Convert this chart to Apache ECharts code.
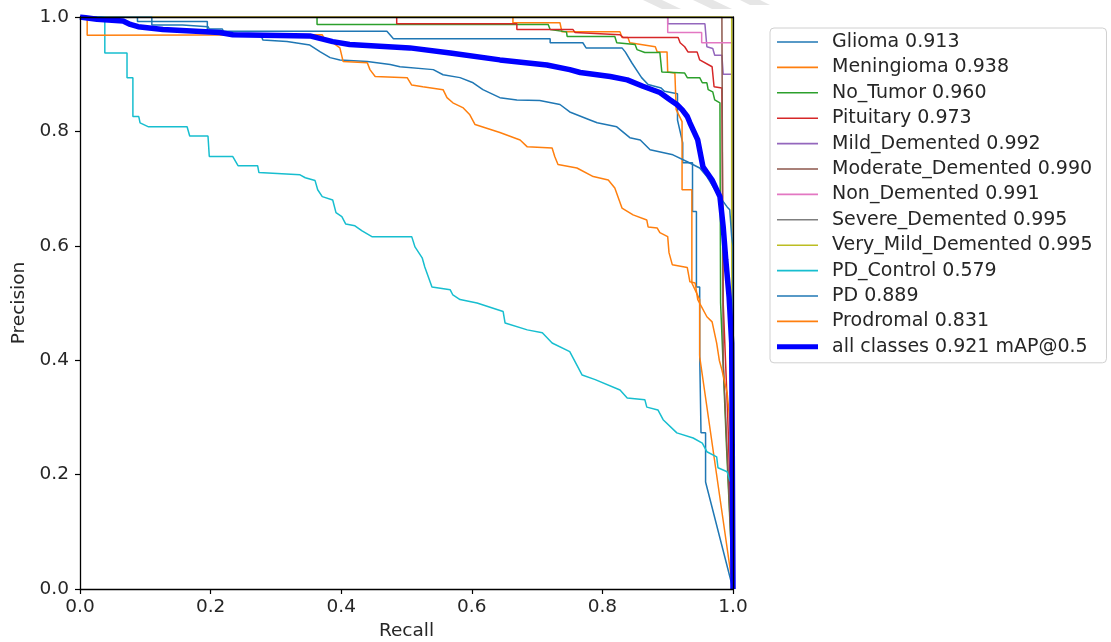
<!DOCTYPE html>
<html>
<head>
<meta charset="utf-8">
<script src="https://cdn.jsdelivr.net/npm/echarts@6/dist/echarts.min.js"></script>
<style>
html,body{margin:0;padding:0;background:#fff;}
#chart{width:1111px;height:642px;}
</style>
</head>
<body>
<div id="chart"></div>
<script>
// ---- data (recall, precision) ----
const classNames = ["Glioma","Meningioma","No_Tumor","Pituitary","Mild_Demented","Moderate_Demented","Non_Demented","Severe_Demented","Very_Mild_Demented","PD_Control","PD","Prodromal"];
const apValues = ["0.913","0.938","0.960","0.973","0.992","0.990","0.991","0.995","0.995","0.579","0.889","0.831"];
const allClassesLabel = "all classes 0.921 mAP@0.5";
const xTicks = [0, 0.2, 0.4, 0.6, 0.8, 1.0];
const yTicks = [0, 0.2, 0.4, 0.6, 0.8, 1.0];

const glioma = [[0,1],[0.088,1],[0.088,0.992],[0.195,0.992],[0.195,0.975],[0.47,0.975],[0.48,0.962],[0.72,0.962],[0.72,0.955],[0.77,0.955],[0.775,0.946],[0.83,0.946],[0.835,0.939],[0.845,0.92],[0.86,0.894],[0.87,0.882],[0.89,0.876],[0.895,0.87],[0.915,0.866],[0.915,0.82],[0.923,0.78],[0.923,0.745],[0.938,0.745],[0.938,0.66],[0.944,0.66],[0.944,0.528],[0.949,0.528],[0.949,0.41],[0.951,0.273],[0.958,0.273],[0.958,0.187],[1,0]];
const meningioma = [[0,1],[0.663,1],[0.663,0.99],[0.735,0.99],[0.738,0.974],[0.827,0.974],[0.83,0.964],[0.839,0.964],[0.842,0.955],[0.881,0.948],[0.884,0.939],[0.899,0.939],[0.9,0.904],[0.911,0.902],[0.913,0.838],[0.922,0.817],[0.922,0.698],[0.937,0.698],[0.937,0.535],[0.949,0.506],[0.949,0.406],[1,0]];
const noTumor = [[0,1],[0.363,1],[0.363,0.987],[0.717,0.987],[0.72,0.978],[0.745,0.974],[0.746,0.966],[0.819,0.966],[0.822,0.955],[0.85,0.952],[0.853,0.943],[0.865,0.938],[0.888,0.938],[0.891,0.904],[0.926,0.902],[0.93,0.894],[0.949,0.894],[0.953,0.885],[0.96,0.885],[0.962,0.873],[0.969,0.869],[0.972,0.855],[0.98,0.85],[0.981,0.5],[0.99,0.25],[1,0]];
const pituitary = [[0,1],[0.485,1],[0.485,0.988],[0.669,0.988],[0.669,0.978],[0.755,0.978],[0.758,0.973],[0.827,0.969],[0.832,0.964],[0.916,0.964],[0.919,0.955],[0.926,0.948],[0.931,0.939],[0.945,0.939],[0.949,0.925],[0.968,0.913],[0.971,0.878],[0.983,0.876],[0.985,0.5],[0.992,0.3],[1,0]];
const mildDemented = [[0,1],[0.9,1],[0.9,0.988],[0.957,0.988],[0.96,0.948],[0.969,0.945],[0.972,0.933],[0.983,0.933],[0.985,0.9],[1,0.9],[1,0]];
const moderateDemented = [[0,1],[0.983,1],[0.985,0.4],[1,0]];
const nonDemented = [[0,1],[0.9,1],[0.9,0.973],[0.952,0.973],[0.952,0.955],[1,0.955],[1,0]];
const severeDemented = [[0,1],[1,1],[1,0]];
const veryMildDemented = [[0,1],[0.998,1],[0.998,0.6],[1,0]];
const pdControl = [[0,1],[0.038,1],[0.038,0.937],[0.072,0.937],[0.072,0.894],[0.081,0.894],[0.081,0.826],[0.09,0.826],[0.092,0.815],[0.105,0.808],[0.164,0.808],[0.168,0.792],[0.196,0.792],[0.198,0.756],[0.234,0.756],[0.242,0.74],[0.272,0.74],[0.274,0.728],[0.337,0.724],[0.345,0.719],[0.36,0.714],[0.364,0.698],[0.371,0.686],[0.387,0.68],[0.392,0.658],[0.401,0.651],[0.407,0.638],[0.421,0.635],[0.432,0.626],[0.447,0.616],[0.508,0.616],[0.513,0.598],[0.524,0.579],[0.528,0.563],[0.539,0.528],[0.567,0.523],[0.571,0.514],[0.582,0.506],[0.608,0.5],[0.648,0.485],[0.651,0.465],[0.685,0.453],[0.708,0.448],[0.723,0.43],[0.75,0.415],[0.769,0.374],[0.789,0.366],[0.827,0.348],[0.838,0.334],[0.865,0.331],[0.868,0.318],[0.885,0.313],[0.893,0.296],[0.914,0.273],[0.939,0.264],[0.953,0.255],[0.96,0.24],[0.975,0.231],[0.977,0.212],[0.991,0.205],[0.995,0.19],[1,0.18],[1,0]];
const pd = [[0,1],[0.11,1],[0.11,0.986],[0.157,0.986],[0.157,0.983],[0.196,0.983],[0.198,0.979],[0.218,0.979],[0.22,0.974],[0.278,0.966],[0.28,0.96],[0.317,0.957],[0.352,0.951],[0.368,0.939],[0.383,0.929],[0.398,0.925],[0.44,0.922],[0.475,0.917],[0.49,0.913],[0.541,0.908],[0.556,0.899],[0.582,0.894],[0.602,0.885],[0.617,0.873],[0.643,0.859],[0.669,0.855],[0.704,0.854],[0.735,0.847],[0.75,0.834],[0.781,0.82],[0.792,0.815],[0.822,0.808],[0.842,0.789],[0.858,0.785],[0.873,0.768],[0.908,0.759],[0.93,0.747],[0.949,0.736],[0.96,0.721],[0.975,0.693],[0.991,0.668],[0.995,0.663],[0.998,0.616],[1,0.6],[1,0]];
const prodromal = [[0,1],[0.011,1],[0.011,0.968],[0.371,0.969],[0.375,0.96],[0.387,0.955],[0.398,0.946],[0.403,0.922],[0.44,0.92],[0.444,0.908],[0.452,0.896],[0.501,0.894],[0.508,0.881],[0.525,0.878],[0.556,0.873],[0.562,0.859],[0.571,0.85],[0.587,0.841],[0.597,0.829],[0.605,0.812],[0.643,0.798],[0.674,0.785],[0.685,0.773],[0.723,0.771],[0.727,0.756],[0.732,0.742],[0.761,0.736],[0.786,0.721],[0.809,0.715],[0.819,0.701],[0.83,0.666],[0.847,0.654],[0.868,0.645],[0.87,0.633],[0.884,0.631],[0.888,0.623],[0.9,0.616],[0.902,0.588],[0.907,0.567],[0.93,0.562],[0.934,0.537],[0.942,0.535],[0.946,0.506],[0.96,0.476],[0.968,0.467],[0.975,0.43],[0.979,0.4],[0.983,0.383],[0.991,0.343],[0.995,0.296],[0.998,0.19],[1,0]];
const allClasses = [[0,1],[0.026,0.996],[0.066,0.993],[0.077,0.987],[0.089,0.983],[0.127,0.978],[0.214,0.973],[0.234,0.969],[0.352,0.967],[0.387,0.957],[0.413,0.952],[0.505,0.946],[0.567,0.937],[0.643,0.925],[0.715,0.916],[0.75,0.908],[0.766,0.903],[0.812,0.896],[0.838,0.89],[0.862,0.879],[0.888,0.868],[0.904,0.855],[0.914,0.847],[0.922,0.838],[0.93,0.826],[0.934,0.815],[0.946,0.785],[0.954,0.738],[0.968,0.715],[0.98,0.686],[0.985,0.633],[0.989,0.575],[0.994,0.511],[0.998,0.43],[1,0]];

const classCurves = [glioma, meningioma, noTumor, pituitary, mildDemented, moderateDemented, nonDemented, severeDemented, veryMildDemented, pdControl, pd, prodromal];
const palette = ["#1f77b4","#ff7f0e","#2ca02c","#d62728","#9467bd","#8c564b","#e377c2","#7f7f7f","#bcbd22","#17becf","#1f77b4","#ff7f0e"];

// ---- chart ----
const chart = echarts.init(document.getElementById('chart'), null, {renderer:'canvas'});
const font = 'DejaVu Sans';
const txt = '#262626';
const thinIcon = 'path://M0,0H40V1.6H0Z';
const thickIcon = 'path://M0,0H40V5H0Z';

const series = classCurves.map((d, i) => ({
  name: classNames[i] + ' ' + apValues[i],
  type: 'line',
  data: d,
  symbol: 'none',
  xAxisIndex: 0, yAxisIndex: 0,
  lineStyle: {color: palette[i], width: 1.5},
  itemStyle: {color: palette[i]},
  emphasis: {disabled: true},
  clip: true
}));
series.push({
  name: allClassesLabel,
  type: 'line',
  data: allClasses,
  symbol: 'none',
  xAxisIndex: 0, yAxisIndex: 0,
  lineStyle: {color: '#0000ff', width: 5.5},
  itemStyle: {color: '#0000ff'},
  emphasis: {disabled: true},
  clip: true
});

const legendData = series.map((s, i) => ({name: s.name, icon: i === series.length - 1 ? thickIcon : thinIcon}));

const labelStyle = {color: txt, fontFamily: font, fontSize: 18.5, formatter: v => v.toFixed(1)};
const axisCommon = {
  type: 'value', min: 0, max: 1, interval: 0.2, z: 10,
  axisLine: {show: true, lineStyle: {color: '#000', width: 1.3}},
  axisTick: {show: true, inside: false, length: 5, lineStyle: {color: '#000', width: 1.2}},
  splitLine: {show: false},
  nameTextStyle: {color: txt, fontFamily: font, fontSize: 18.5},
  nameLocation: 'middle'
};
const spine = {
  type: 'value', min: 0, max: 1, z: 10,
  axisLine: {show: true, onZero: false, lineStyle: {color: '#000', width: 1.3}},
  axisTick: {show: false}, axisLabel: {show: false}, splitLine: {show: false}
};

chart.setOption({
  animation: false,
  backgroundColor: '#fff',
  grid: {left: 80, right: 378, top: 17, bottom: 53, show: false, containLabel: false, outerBoundsMode: 'none'},
  xAxis: [
    Object.assign({}, axisCommon, {name: 'Recall', nameGap: 30, position: 'bottom', axisLabel: Object.assign({}, labelStyle, {margin: 9})}),
    Object.assign({}, spine, {position: 'top'})
  ],
  yAxis: [
    Object.assign({}, axisCommon, {name: 'Precision', nameGap: 50, position: 'left', axisLabel: Object.assign({}, labelStyle, {margin: 11})}),
    Object.assign({}, spine, {position: 'right'})
  ],
  legend: {
    orient: 'vertical', left: 770, top: 28,
    padding: [4, 14, 6, 7],
    itemWidth: 41, itemHeight: 14, itemGap: 5.4,
    borderColor: '#d0d0d0', borderWidth: 1, borderRadius: 4,
    textStyle: {color: txt, fontFamily: font, fontSize: 19, lineHeight: 20, padding: [0, 0, 0, 9]},
    selectedMode: false,
    data: legendData
  },
  graphic: [
    {type: 'polygon', shape: {points: [[643,0],[662,0],[681,9],[662,9]]}, style: {fill: '#e6e6e6'}, silent: true},
    {type: 'polygon', shape: {points: [[693,0],[713,0],[732,9],[712,9]]}, style: {fill: '#e6e6e6'}, silent: true},
    {type: 'polygon', shape: {points: [[740,0],[760,0],[770,5],[750,5]]}, style: {fill: '#e6e6e6'}, silent: true}
  ],
  series: series
});
</script>
</body>
</html>
